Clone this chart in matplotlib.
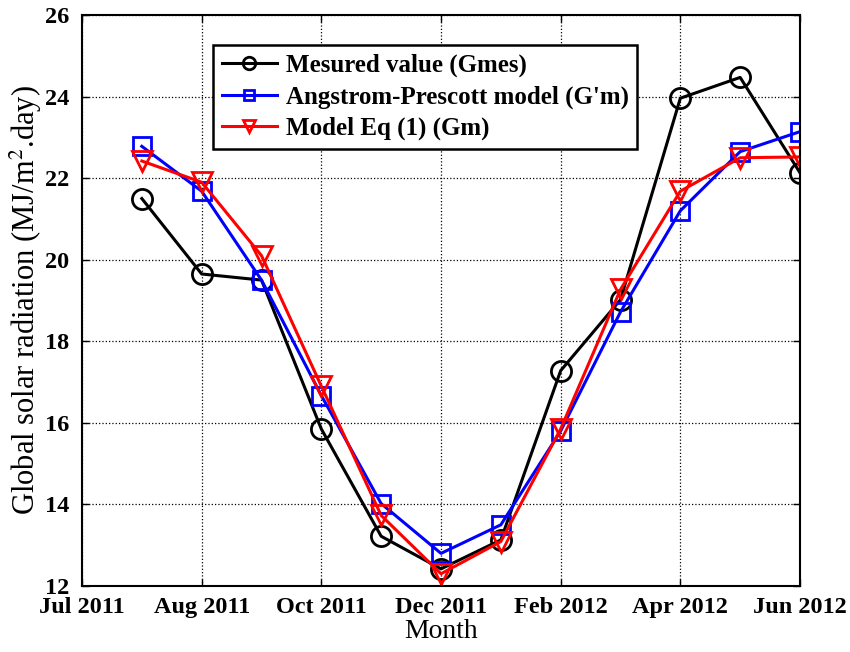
import numpy as np
import matplotlib
matplotlib.use("Agg")
from matplotlib import pyplot as plt

plt.rcParams['font.family'] = ['Liberation Serif', 'DejaVu Serif']
plt.rcParams['mathtext.fontset'] = 'stix'

months = np.arange(1, 13)
tick_pos = [0, 2, 4, 6, 8, 10, 12]
tick_labels = ['Jul 2011', 'Aug 2011', 'Oct 2011', 'Dec 2011', 'Feb 2012', 'Apr 2012', 'Jun 2012']

g_mes = [21.5, 19.65, 19.5, 15.85, 13.22, 12.42, 13.13, 17.28, 19.02, 23.96, 24.47, 22.13]
g_ap = [22.78, 21.68, 19.5, 16.67, 14.02, 12.8, 13.5, 15.8, 18.72, 21.2, 22.65, 23.14]
g_eq1 = [22.42, 21.9, 20.1, 16.9, 13.73, 12.3, 13.09, 15.85, 19.27, 21.68, 22.5, 22.52]

fig = plt.figure(figsize=(8.5, 6.52), dpi=100)
ax = fig.add_axes([82/850, 1-586/652, 718/850, 571/652])

style = dict(linewidth=2.2, markersize=14.5, markerfacecolor='none', markeredgewidth=2)
ax.plot(months, g_mes, color='black', marker='o', label='Mesured value (Gmes)', **style)
ax.plot(months, g_ap, color='blue', marker='s', label="Angstrom-Prescott model (G'm)",
        **dict(style, markersize=12.5))
ax.plot(months, g_eq1, color='red', marker='v', label='Model Eq (1) (Gm)', **dict(style, markersize=15))

ax.set_xlim(0, 12)
ax.set_ylim(12, 26)
ax.set_xticks(tick_pos)
ax.set_xticklabels(tick_labels)
ax.set_yticks(np.arange(12, 27, 2))
for lab in ax.get_xticklabels():
    lab.set_fontweight('bold')
    lab.set_fontsize(17.5)
for lab in ax.get_yticklabels():
    lab.set_fontweight('bold')
    lab.set_fontsize(17.5)
ax.tick_params(axis='y', pad=9)
ax.tick_params(axis='x', pad=8)
ax.tick_params(direction='in', top=True, right=True, length=5, width=1)
ax.grid(True, color='black', linestyle=':', linewidth=0.9)
for sp in ax.spines.values():
    sp.set_linewidth(1.5)

ax.set_xlabel('Month', fontsize=20, labelpad=1)
ax.set_ylabel('Global solar radiation (MJ/m$^2$.day)', fontsize=22, labelpad=1)

leg = ax.legend(loc='upper left', bbox_to_anchor=(0.1825, 0.947), fancybox=False,
                edgecolor='black', framealpha=1, prop={'weight': 'bold', 'size': 18},
                handlelength=2.2, handletextpad=0.35, borderpad=0.35, borderaxespad=0,
                labelspacing=0.32, markerscale=0.62)
leg.get_frame().set_linewidth(1.8)

fig.savefig('out.png', dpi=100)
